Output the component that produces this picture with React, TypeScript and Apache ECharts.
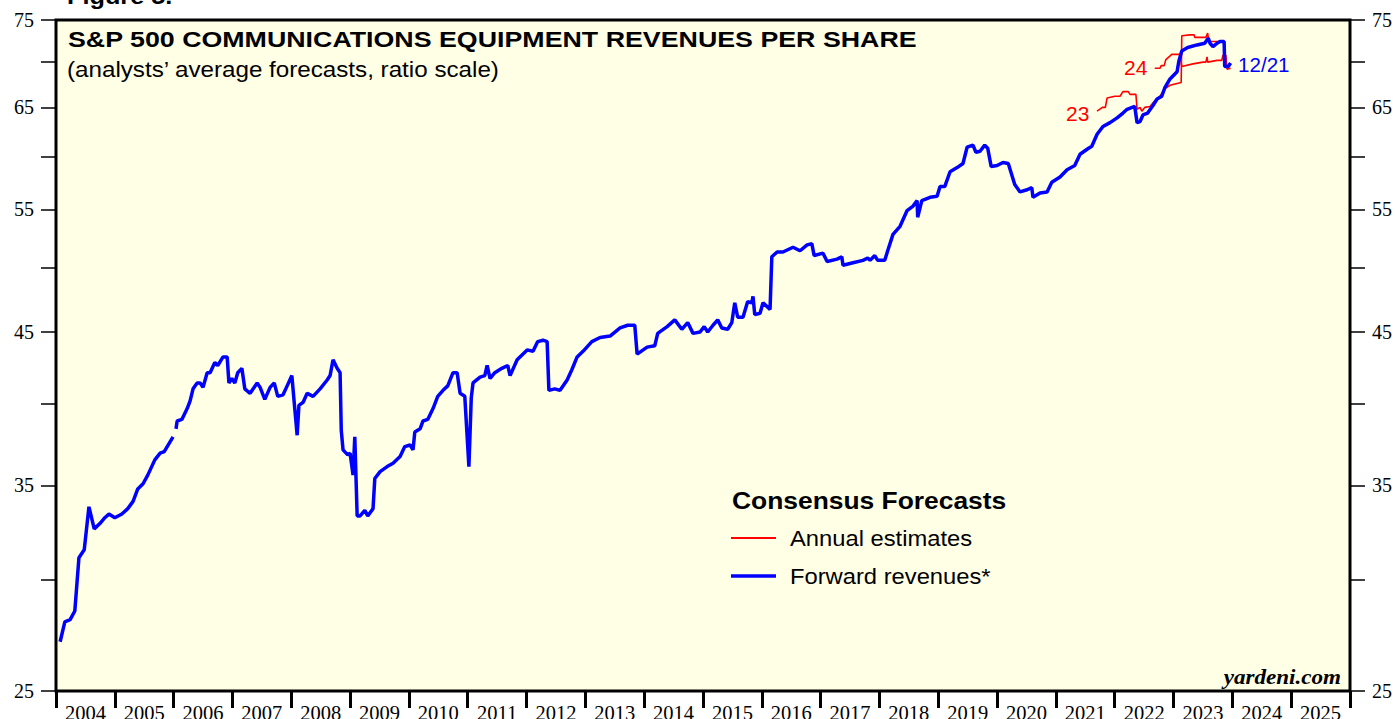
import React, { useEffect, useRef } from "react";
import * as echarts from "echarts";

// Forward revenues per share (year fraction, value); null marks the data gap
const forwardRevenues: [number, number | null][] = [
  [2004.07, 27.1], [2004.15, 28.0], [2004.24, 28.1], [2004.32, 28.5], [2004.39, 31.1],
  [2004.48, 31.5], [2004.56, 33.8], [2004.65, 32.6], [2004.75, 32.9], [2004.83, 33.2],
  [2004.9, 33.4], [2005.0, 33.2], [2005.12, 33.4], [2005.22, 33.7], [2005.31, 34.1],
  [2005.39, 34.8], [2005.48, 35.1], [2005.56, 35.6], [2005.68, 36.5], [2005.77, 36.9],
  [2005.84, 37.0], [2005.99, 37.9], [2006.01, null], [2006.04, 38.4], [2006.06, 38.9],
  [2006.14, 39.0], [2006.23, 39.7], [2006.28, 40.2], [2006.33, 41.0], [2006.4, 41.4],
  [2006.45, 41.4], [2006.5, 41.1], [2006.57, 42.1], [2006.62, 42.1], [2006.7, 42.8],
  [2006.75, 42.6], [2006.84, 43.2], [2006.91, 43.2], [2006.94, 41.4], [2006.99, 41.7],
  [2007.04, 41.4], [2007.09, 42.1], [2007.16, 42.4], [2007.21, 41.0], [2007.3, 40.7],
  [2007.42, 41.4], [2007.47, 41.1], [2007.55, 40.3], [2007.64, 41.1], [2007.71, 41.4],
  [2007.77, 40.5], [2007.86, 40.6], [2007.93, 41.2], [2008.01, 41.9], [2008.05, 40.1],
  [2008.1, 38.0], [2008.13, 39.9], [2008.2, 40.1], [2008.27, 40.7], [2008.37, 40.5],
  [2008.49, 41.0], [2008.61, 41.6], [2008.66, 41.9], [2008.71, 43.0], [2008.78, 42.4],
  [2008.83, 42.1], [2008.85, 38.3], [2008.88, 37.1], [2008.96, 36.8], [2009.0, 36.9],
  [2009.05, 35.6], [2009.08, 37.9], [2009.12, 33.3], [2009.17, 33.3], [2009.25, 33.6],
  [2009.3, 33.3], [2009.39, 33.7], [2009.42, 35.4], [2009.51, 35.8], [2009.63, 36.1],
  [2009.73, 36.3], [2009.85, 36.7], [2009.93, 37.3], [2010.02, 37.4], [2010.07, 37.1],
  [2010.1, 38.2], [2010.19, 38.4], [2010.24, 38.9], [2010.32, 39.0], [2010.41, 39.7],
  [2010.49, 40.5], [2010.58, 40.9], [2010.66, 41.2], [2010.75, 42.1], [2010.82, 42.1],
  [2010.87, 40.7], [2010.95, 40.5], [2011.02, 36.1], [2011.06, 40.4], [2011.09, 41.4],
  [2011.21, 41.8], [2011.29, 41.9], [2011.33, 42.6], [2011.38, 41.7], [2011.46, 42.1],
  [2011.58, 42.4], [2011.68, 42.6], [2011.72, 41.9], [2011.84, 43.0], [2012.01, 43.7],
  [2012.11, 43.6], [2012.19, 44.3], [2012.28, 44.4], [2012.35, 44.3], [2012.38, 40.9],
  [2012.48, 41.0], [2012.57, 40.9], [2012.69, 41.6], [2012.77, 42.3], [2012.86, 43.2],
  [2012.96, 43.6], [2013.11, 44.3], [2013.25, 44.6], [2013.42, 44.7], [2013.59, 45.3],
  [2013.72, 45.5], [2013.84, 45.5], [2013.88, 43.4], [2014.05, 43.9], [2014.18, 44.0],
  [2014.23, 44.9], [2014.39, 45.4], [2014.52, 45.9], [2014.64, 45.2], [2014.74, 45.7],
  [2014.83, 44.9], [2014.95, 45.0], [2015.02, 45.4], [2015.08, 45.0], [2015.17, 45.5],
  [2015.25, 45.9], [2015.32, 45.3], [2015.42, 45.2], [2015.49, 45.7], [2015.54, 47.2],
  [2015.59, 46.1], [2015.68, 46.1], [2015.76, 47.3], [2015.83, 47.2], [2015.85, 47.7],
  [2015.88, 46.3], [2015.97, 46.4], [2016.02, 47.2], [2016.14, 46.7], [2016.17, 50.9],
  [2016.26, 51.3], [2016.36, 51.3], [2016.53, 51.7], [2016.65, 51.4], [2016.77, 51.9],
  [2016.85, 52.0], [2016.89, 51.0], [2017.04, 51.2], [2017.11, 50.5], [2017.28, 50.7],
  [2017.36, 50.9], [2017.38, 50.2], [2017.55, 50.4], [2017.72, 50.6], [2017.8, 50.8],
  [2017.84, 50.6], [2017.92, 51.0], [2017.97, 50.6], [2018.09, 50.6], [2018.14, 51.4],
  [2018.23, 52.8], [2018.35, 53.5], [2018.47, 54.9], [2018.57, 55.3], [2018.64, 55.8],
  [2018.65, 54.3], [2018.72, 55.8], [2018.86, 56.1], [2018.98, 56.2], [2019.03, 57.1],
  [2019.11, 57.1], [2019.2, 58.5], [2019.32, 58.9], [2019.42, 59.3], [2019.49, 60.9],
  [2019.59, 61.1], [2019.64, 60.4], [2019.71, 60.5], [2019.79, 61.1], [2019.84, 60.8],
  [2019.9, 59.0], [2020.0, 59.1], [2020.1, 59.4], [2020.19, 59.3], [2020.3, 57.3],
  [2020.39, 56.6], [2020.51, 56.8], [2020.59, 57.0], [2020.61, 56.1], [2020.73, 56.5],
  [2020.85, 56.6], [2020.93, 57.5], [2021.07, 58.0], [2021.19, 58.7], [2021.32, 59.1],
  [2021.41, 60.2], [2021.53, 60.7], [2021.61, 61.0], [2021.7, 62.2], [2021.8, 63.0],
  [2021.92, 63.4], [2022.04, 63.9], [2022.14, 64.4], [2022.21, 64.8], [2022.34, 65.1],
  [2022.38, 63.4], [2022.43, 63.5], [2022.48, 64.2], [2022.56, 64.4], [2022.65, 65.2],
  [2022.72, 65.9], [2022.8, 66.2], [2022.85, 67.1], [2022.94, 68.1], [2023.06, 68.9],
  [2023.09, 70.1], [2023.14, 71.3], [2023.24, 71.7], [2023.4, 72.0], [2023.53, 72.2],
  [2023.59, 72.8], [2023.62, 72.2], [2023.67, 71.8], [2023.74, 72.2], [2023.79, 72.4],
  [2023.86, 72.4], [2023.87, 69.5], [2023.93, 69.5], [2023.97, 69.9],
];

// Annual estimate for 2023
const estimate2023: [number, number][] = [
  [2021.7, 64.6], [2021.79, 65.0], [2021.84, 65.0], [2021.87, 66.0], [2022.0, 66.2],
  [2022.09, 66.2], [2022.14, 66.7], [2022.23, 66.7], [2022.26, 66.4], [2022.36, 66.4],
  [2022.38, 64.8], [2022.43, 65.0], [2022.46, 64.6], [2022.51, 65.0], [2022.6, 65.1],
  [2022.68, 65.7], [2022.77, 66.2], [2022.85, 67.0], [2022.94, 67.4], [2023.06, 67.6],
  [2023.13, 67.7], [2023.14, 73.1], [2023.28, 73.2], [2023.35, 73.2], [2023.36, 72.9],
  [2023.55, 72.9], [2023.58, 73.4], [2023.6, 72.4], [2023.7, 72.4], [2023.79, 72.4],
];

// Annual estimate for 2024
const estimate2024: [number, number][] = [
  [2022.68, 69.3], [2022.77, 69.3], [2022.79, 69.6], [2022.84, 69.6], [2022.87, 70.3],
  [2022.97, 70.9], [2023.11, 70.9], [2023.14, 69.5], [2023.33, 69.8], [2023.5, 70.0],
  [2023.55, 70.0], [2023.57, 70.6], [2023.58, 70.0], [2023.74, 70.2], [2023.82, 70.2],
  [2023.84, 70.8], [2023.89, 70.8], [2023.91, 69.2], [2023.97, 69.3],
];

const yLabelValues = [25, 35, 45, 55, 65, 75];
const yTickValues = [25, 30, 35, 40, 45, 50, 55, 60, 65, 70, 75];
const years = Array.from({ length: 22 }, (_, i) => 2004 + i);
const yearEdges = Array.from({ length: 23 }, (_, i) => 2004 + i);

const SANS = "'Liberation Sans', Arial, sans-serif";
const SERIF = "'Liberation Serif', 'Times New Roman', serif";

const toLog = (arr: [number, number | null][]) =>
  arr.map(([x, v]) => [x, v == null ? "-" : Math.log(v)]);

function yAxis(position: "left" | "right") {
  return {
    type: "value",
    position,
    min: Math.log(25),
    max: Math.log(75),
    axisLine: { show: false },
    splitLine: { show: false },
    axisTick: {
      show: true,
      length: 15,
      customValues: yTickValues.map((v) => Math.log(v)),
      lineStyle: { color: "#000", width: 1.5 },
    },
    axisLabel: {
      show: true,
      margin: 22,
      customValues: yLabelValues.map((v) => Math.log(v)),
      formatter: (v: number) => String(Math.round(Math.exp(v))),
      fontFamily: SERIF,
      fontSize: 20,
      color: "#000",
    },
  };
}

function text(
  x: number, y: number, t: string, font: string, fill: string,
  scaleX = 1, align: string = "left"
) {
  return {
    type: "text",
    x,
    y,
    scaleX,
    z: 100,
    style: { text: t, font, fill, textAlign: align, textVerticalAlign: "middle" },
  };
}

export default function App() {
  const ref = useRef<HTMLDivElement>(null);
  useEffect(() => {
    if (!ref.current) return;
    const chart = echarts.init(ref.current, null, { renderer: "svg" });
    chart.setOption({
      animation: false,
      backgroundColor: "#ffffff",
      grid: {
        left: 56,
        right: 45,
        top: 20,
        bottom: 28,
        show: true,
        backgroundColor: "#ffffe6",
        borderColor: "#000",
        borderWidth: 3,
        containLabel: false,
        outerBoundsMode: "none",
      },
      xAxis: {
        type: "value",
        min: 2004,
        max: 2026,
        interval: 1,
        axisLine: { show: false },
        splitLine: { show: false },
        axisTick: {
          show: true,
          length: 17,
          customValues: yearEdges,
          lineStyle: { color: "#000", width: 3 },
        },
        axisLabel: {
          show: true,
          margin: 11,
          customValues: years.map((y) => y + 0.5),
          formatter: (v: number) => String(Math.floor(v)),
          fontFamily: SERIF,
          fontSize: 20.5,
          color: "#000",
        },
      },
      yAxis: [yAxis("left"), yAxis("right")],
      series: [
        {
          name: "2023",
          type: "line",
          data: toLog(estimate2023),
          showSymbol: false,
          lineStyle: { color: "#ff0000", width: 1.6 },
          z: 2,
        },
        {
          name: "2024",
          type: "line",
          data: toLog(estimate2024),
          showSymbol: false,
          lineStyle: { color: "#ff0000", width: 1.6 },
          z: 2,
        },
        {
          name: "Forward revenues",
          type: "line",
          data: toLog(forwardRevenues),
          showSymbol: false,
          connectNulls: false,
          lineStyle: { color: "#0000ff", width: 3.5 },
          z: 3,
        },
      ],
      graphic: [
        text(67, -3, "Figure 5.", `bold 22px ${SANS}`, "#000", 1.15),
        text(68, 39, "S&P 500 COMMUNICATIONS EQUIPMENT REVENUES PER SHARE", `bold 22px ${SANS}`, "#000", 1.218),
        text(67, 69, "(analysts\u2019 average forecasts, ratio scale)", `22px ${SANS}`, "#000", 1.1),
        text(732, 500, "Consensus Forecasts", `bold 24px ${SANS}`, "#000", 1.1),
        {
          type: "line",
          z: 100,
          shape: { x1: 731, y1: 538, x2: 776, y2: 538 },
          style: { stroke: "#ff0000", lineWidth: 2 },
        },
        text(790, 538, "Annual estimates", `22px ${SANS}`, "#000", 1.08),
        {
          type: "line",
          z: 100,
          shape: { x1: 731, y1: 576, x2: 776, y2: 576 },
          style: { stroke: "#0000ff", lineWidth: 3.5 },
        },
        text(790, 576, "Forward revenues*", `22px ${SANS}`, "#000", 1.08),
        text(1341, 677, "yardeni.com", `italic bold 22px ${SERIF}`, "#000", 1.05, "right"),
        text(1066, 114, "23", `20px ${SANS}`, "#ff0000", 1.05),
        text(1124, 68, "24", `20px ${SANS}`, "#ff0000", 1.05),
        text(1238, 65, "12/21", `20px ${SANS}`, "#0000ff", 1.03),
      ],
    });
    return () => chart.dispose();
  }, []);
  return (
    <div
      ref={ref}
      style={{ position: "absolute", left: 0, top: 0, width: 1395, height: 719 }}
    />
  );
}
